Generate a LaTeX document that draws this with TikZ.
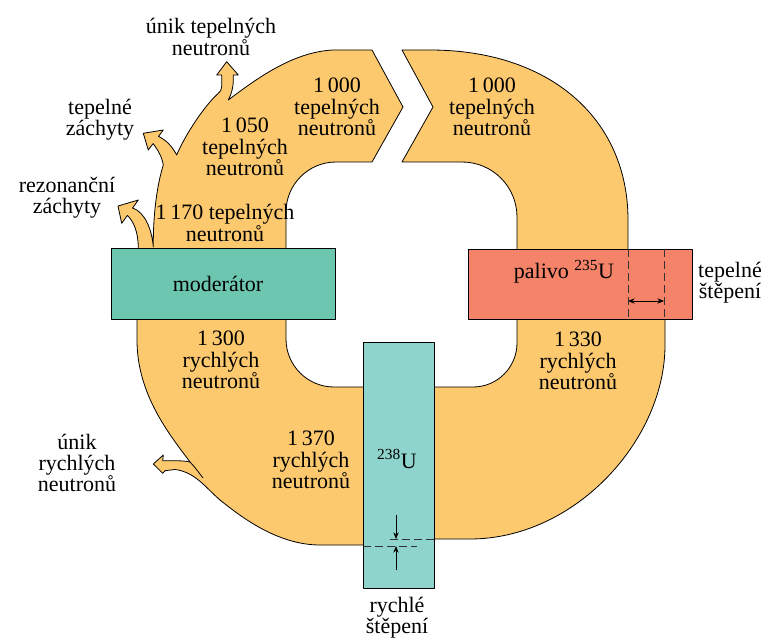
\documentclass[tikz,border=0pt]{standalone}
\usepackage{fontspec}
\setmainfont{Liberation Serif}
\usetikzlibrary{arrows.meta}
\definecolor{tok}{RGB}{253,201,111}
\definecolor{moder}{RGB}{108,198,176}
\definecolor{palivo}{RGB}{244,131,106}
\definecolor{uran}{RGB}{143,212,204}

\begin{document}
\begin{tikzpicture}[x=0.75pt, y=-0.75pt, line join=round,
    pas/.style={fill=tok, draw=black, line width=0.6pt},
    blok/.style={draw=black, line width=0.6pt},
    popis/.style={align=center, inner sep=0pt, font=\fontsize{16.5}{16}\selectfont},
    carky/.style={dash pattern=on 6pt off 3pt, line width=0.6pt, black!80},
    sipka/.style={-{Stealth[length=5pt,width=4pt]}, line width=0.6pt},
    dvojsipka/.style={{Stealth[length=5pt,width=4pt]}-{Stealth[length=5pt,width=4pt]}, line width=0.6pt}]
    \useasboundingbox (0,0) rectangle (764,638);

    % Band: 238U -> moderator, with leak of fast neutrons
    \path[pas] (400,545) -- (320,545) .. controls (277,545) and (240,516) .. (220,500)
        .. controls (205,487) and (195,472) .. (175,469.5) -- (165,470.7) -- (162.7,473.3)
        -- (153.3,464) -- (163.3,455) -- (162.7,460.7) -- (173,460.7)
        .. controls (180,460.7) and (186,461) .. (190,462)
        .. controls (170,435) and (137,395) .. (137,340) -- (137,300) -- (286,300) -- (286,339)
        .. controls (286,365.5) and (307.5,387) .. (334,387) -- (400,387) -- cycle;
    \draw[line width=0.6pt] (190,462) .. controls (195,467) and (199,473) .. (203,478);

    % Band: moderator -> top, with captures and leak of thermal neutrons
    \path[pas] (286,270) -- (286,212) .. controls (286,184.4) and (308.4,162) .. (336,162)
        -- (372,162) -- (403,107) -- (372,50) -- (333,50)
        .. controls (292,52) and (255,80) .. (228.3,100)
        .. controls (231,95) and (233.3,88) .. (233.3,80) -- (233.3,75) -- (238.3,75)
        -- (226.7,61.7) -- (216.7,75) -- (221.7,75) -- (221.7,86.7)
        .. controls (221.7,90) and (220,92) .. (218.3,93.3)
        .. controls (205,105) and (185,135) .. (176.7,155)
        .. controls (172,146) and (166,140) .. (158.5,136.4) -- (163.3,130) -- (143.3,133.3)
        -- (148.3,150) -- (153.1,143.6) .. controls (158,150) and (162,157) .. (163.3,165)
        .. controls (157,185) and (153,215) .. (153.3,247)
        .. controls (152,230) and (145,212) .. (132.6,208) -- (138.3,200) -- (118,206)
        -- (121.7,223.3) -- (127.4,215.4) .. controls (134,222) and (138,232) .. (138.3,247)
        -- (138.3,270) -- cycle;

    % Band: top -> fuel
    \path[pas] (402,50) -- (430,50) .. controls (549,50) and (628,118) .. (628,220)
        -- (628,270) -- (517,270) -- (517,217) .. controls (517,186.6) and (492.4,162) .. (462,162)
        -- (402,162) -- (433,107) -- cycle;

    % Band: fuel -> 238U
    \path[pas] (665,300) -- (665,345) .. controls (665,440) and (575,539) .. (470,539)
        -- (420,539) -- (420,387) -- (473,387) .. controls (497.3,387) and (517,367.3) .. (517,343)
        -- (517,300) -- cycle;

    % Blocks
    \draw[blok, fill=moder] (111,248) rectangle (335,319);
    \draw[blok, fill=palivo] (468,249) rectangle (692,319);
    \draw[blok, fill=uran] (363,342) rectangle (434,588);

    % Thermal fission
    \foreach \x in {628,664} {
        \draw[carky] (\x,249) -- (\x,319);
    }
    \coordinate (ts1) at (628,301);
    \coordinate (ts2) at (664,301);
    \draw[dvojsipka] (ts1) -- (ts2);

    % Fast fission
    \draw[carky] (363,546) -- (417,546);
    \draw[carky] (390,539) -- (434,539);
    \coordinate (rs1) at (396,515);
    \coordinate (rs2) at (396,539);
    \coordinate (rs3) at (396,570);
    \coordinate (rs4) at (396,546);
    \draw[sipka] (rs1) -- (rs2);
    \draw[sipka] (rs3) -- (rs4);

    % Labels
    \node[popis] (ut) at (211,37) {únik tepelných\\neutronů};
    \node[popis] (tz) at (100,120) {tepelné\\záchyty};
    \node[popis] (rz) at (67,198) {rezonanční\\záchyty};
    \node[popis] (n1000a) at (337,107) {1\,000\\tepelných\\neutronů};
    \node[popis] (n1000b) at (492,107) {1\,000\\tepelných\\neutronů};
    \node[popis] (n1050) at (245,147) {1\,050\\tepelných\\neutronů};
    \node[popis] (n1170) at (225,223) {1\,170 tepelných\\neutronů};
    \node[popis] (mod) at (218,284) {moderátor};
    \node[popis] (pal) at (564,272) {palivo \textsuperscript{235}U};
    \node[popis] (tst) at (730,283) {tepelné\\štěpení};
    \node[popis] (n1300) at (221,360) {1\,300\\rychlých\\neutronů};
    \node[popis] (n1330) at (578,361) {1\,330\\rychlých\\neutronů};
    \node[popis] (n1370) at (311,460) {1\,370\\rychlých\\neutronů};
    \node[popis] (u238) at (397,459) {\textsuperscript{238}U};
    \node[popis] (ur) at (77,463) {únik\\rychlých\\neutronů};
    \node[popis] (rst) at (397,618) {rychlé\\štěpení};
\end{tikzpicture}
\end{document}
